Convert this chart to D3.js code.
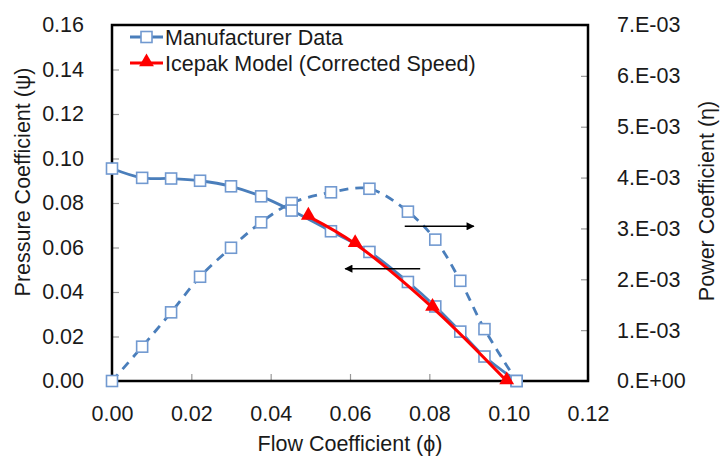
<!DOCTYPE html>
<html>
<head>
<meta charset="utf-8">
<script src="https://cdn.jsdelivr.net/npm/d3@7"></script>
<style>
  body { margin: 0; background: #fff; }
  text { font-family: "Liberation Sans", Arial, sans-serif; fill: #1a1a1a; }
</style>
</head>
<body>
<div id="chart"></div>
<script>
// flow coefficient (phi) for the manufacturer curves
var mfrFlow = [0.0, 0.0076, 0.0149, 0.0222, 0.0300, 0.0376, 0.0453, 0.0552, 0.0649, 0.0746, 0.0815, 0.0878, 0.0939, 0.1020];
// pressure coefficient (psi), left axis
var mfrPressure = [0.0955, 0.0913, 0.0910, 0.0900, 0.0875, 0.0830, 0.0766, 0.0673, 0.0580, 0.0445, 0.0335, 0.0222, 0.0110, 0.0];
// power coefficient (eta), right axis
var mfrPower = [0.0, 0.000675, 0.00135, 0.00205, 0.00262, 0.00312, 0.00350, 0.00371, 0.00378, 0.00333, 0.00278, 0.00197, 0.00102, 0.0];

// icepak model points
var icepakFlow = [0.0495, 0.0613, 0.0808, 0.0995];
var icepakPressure = [0.0740, 0.0617, 0.0330, 0.0];

var xTicks = [0, 0.02, 0.04, 0.06, 0.08, 0.10, 0.12];
var yTicks = [0, 0.02, 0.04, 0.06, 0.08, 0.10, 0.12, 0.14, 0.16];
var y2Ticks = [0, 0.001, 0.002, 0.003, 0.004, 0.005, 0.006, 0.007];
var y2Labels = ["0.E+00", "1.E-03", "2.E-03", "3.E-03", "4.E-03", "5.E-03", "6.E-03", "7.E-03"];

var legendLabels = ["Manufacturer Data", "Icepak Model (Corrected Speed)"];

var svgWidth = 723, svgHeight = 462;
var margin = { top: 25, right: 135, bottom: 81, left: 112 };
var width = svgWidth - margin.left - margin.right;
var height = svgHeight - margin.top - margin.bottom;

var blue = "#4a7ebb";
var markBlue = "#7199d0";
var red = "#ff0000";

var svg = d3.select("#chart").append("svg")
  .attr("width", svgWidth)
  .attr("height", svgHeight);

var defs = svg.append("defs");
defs.append("marker")
  .attr("id", "arrow")
  .attr("viewBox", "0 0 10 10")
  .attr("refX", 9).attr("refY", 5)
  .attr("markerWidth", 10).attr("markerHeight", 8)
  .attr("markerUnits", "userSpaceOnUse")
  .attr("orient", "auto")
  .append("path")
  .attr("d", "M0,0 L10,5 L0,10 Z")
  .attr("fill", "#000");

var chartGroup = svg.append("g")
  .attr("transform", `translate(${margin.left}, ${margin.top})`);

// scales
var xScale = d3.scaleLinear().domain([0, 0.12]).range([0, width]);
var yScale = d3.scaleLinear().domain([0, 0.16]).range([height, 0]);
var y2Scale = d3.scaleLinear().domain([0, 0.007]).range([height, 0]);

// axes with inward ticks
var xAxis = d3.axisBottom(xScale).tickValues(xTicks).tickSize(-7).tickPadding(25)
  .tickFormat(d3.format(".2f"));
var yAxis = d3.axisLeft(yScale).tickValues(yTicks).tickSize(-7).tickPadding(28)
  .tickFormat(d3.format(".2f"));
var y2Axis = d3.axisRight(y2Scale).tickValues(y2Ticks).tickSize(-7).tickPadding(29)
  .tickFormat((d, i) => y2Labels[i]);

function styleAxis(g) {
  g.select(".domain").remove();
  g.selectAll(".tick line").attr("stroke", "#999").attr("stroke-width", 1.2);
  g.selectAll(".tick text").style("font-size", "21.5px").style("font-family", "'Liberation Sans', Arial, sans-serif").attr("fill", "#1a1a1a");
}

chartGroup.append("g")
  .attr("transform", `translate(0, ${height})`)
  .call(xAxis).call(styleAxis);

chartGroup.append("g").call(yAxis).call(styleAxis);

chartGroup.append("g")
  .attr("transform", `translate(${width}, 0)`)
  .call(y2Axis).call(styleAxis);

// plot frame
chartGroup.append("rect")
  .attr("x", 0).attr("y", 0)
  .attr("width", width).attr("height", height)
  .attr("fill", "none")
  .attr("stroke", "#000")
  .attr("stroke-width", 2.5);

// manufacturer pressure curve
var pressureData = mfrFlow.map((f, i) => ({ x: f, y: mfrPressure[i] }));
var powerData = mfrFlow.map((f, i) => ({ x: f, y: mfrPower[i] }));
var icepakData = icepakFlow.map((f, i) => ({ x: f, y: icepakPressure[i] }));

var pressureLine = d3.line()
  .x(d => xScale(d.x)).y(d => yScale(d.y))
  .curve(d3.curveCatmullRom);
var powerLine = d3.line()
  .x(d => xScale(d.x)).y(d => y2Scale(d.y))
  .curve(d3.curveCatmullRom);

chartGroup.append("path")
  .datum(powerData)
  .attr("d", powerLine)
  .attr("fill", "none")
  .attr("stroke", blue)
  .attr("stroke-width", 2.8)
  .attr("stroke-dasharray", "9,7");

chartGroup.append("path")
  .datum(pressureData)
  .attr("d", pressureLine)
  .attr("fill", "none")
  .attr("stroke", blue)
  .attr("stroke-width", 2.8);

var sq = 11;
chartGroup.selectAll("rect.pw")
  .data(powerData)
  .enter()
  .append("rect")
  .attr("class", "pw")
  .attr("x", d => xScale(d.x) - sq / 2)
  .attr("y", d => y2Scale(d.y) - sq / 2)
  .attr("width", sq).attr("height", sq)
  .attr("fill", "#fff")
  .attr("stroke", markBlue)
  .attr("stroke-width", 1.6);

chartGroup.selectAll("rect.pr")
  .data(pressureData)
  .enter()
  .append("rect")
  .attr("class", "pr")
  .attr("x", d => xScale(d.x) - sq / 2)
  .attr("y", d => yScale(d.y) - sq / 2)
  .attr("width", sq).attr("height", sq)
  .attr("fill", "#fff")
  .attr("stroke", markBlue)
  .attr("stroke-width", 1.6);

// icepak model
chartGroup.append("path")
  .datum(icepakData)
  .attr("d", pressureLine)
  .attr("fill", "none")
  .attr("stroke", red)
  .attr("stroke-width", 3);

var tri = d3.symbol().type(d3.symbolTriangle).size(95);
chartGroup.selectAll("path.ice")
  .data(icepakData)
  .enter()
  .append("path")
  .attr("class", "ice")
  .attr("d", tri)
  .attr("transform", d => `translate(${xScale(d.x)}, ${yScale(d.y) - 1})`)
  .attr("fill", red);

// arrows pointing to each curve's axis
chartGroup.append("line")
  .attr("x1", xScale(0.0738)).attr("y1", yScale(0.0695))
  .attr("x2", xScale(0.0912)).attr("y2", yScale(0.0695))
  .attr("stroke", "#000").attr("stroke-width", 1.5)
  .attr("marker-end", "url(#arrow)");

chartGroup.append("line")
  .attr("x1", xScale(0.0777)).attr("y1", yScale(0.0505))
  .attr("x2", xScale(0.0588)).attr("y2", yScale(0.0505))
  .attr("stroke", "#000").attr("stroke-width", 1.5)
  .attr("marker-end", "url(#arrow)");

// legend
var legend = svg.append("g").attr("transform", "translate(130, 37)");
legend.append("line")
  .attr("x1", 0).attr("x2", 33).attr("y1", 0).attr("y2", 0)
  .attr("stroke", blue).attr("stroke-width", 2.8);
legend.append("rect")
  .attr("x", 16.5 - sq / 2).attr("y", -sq / 2)
  .attr("width", sq).attr("height", sq)
  .attr("fill", "#fff").attr("stroke", markBlue).attr("stroke-width", 1.6);
legend.append("text")
  .attr("x", 35).attr("y", 7.5)
  .style("font-size", "21.5px")
  .text(legendLabels[0]);

legend.append("line")
  .attr("x1", 0).attr("x2", 33).attr("y1", 26).attr("y2", 26)
  .attr("stroke", red).attr("stroke-width", 3);
legend.append("path")
  .attr("d", tri)
  .attr("transform", "translate(16.5, 25)")
  .attr("fill", red);
legend.append("text")
  .attr("x", 35).attr("y", 33.5)
  .style("font-size", "21.5px")
  .text(legendLabels[1]);

// axis titles
svg.append("text")
  .attr("transform", "translate(30, 182) rotate(-90)")
  .attr("text-anchor", "middle")
  .style("font-size", "21.5px")
  .text("Pressure Coefficient (ψ)");

svg.append("text")
  .attr("transform", "translate(714, 201) rotate(-90)")
  .attr("text-anchor", "middle")
  .style("font-size", "21.5px")
  .text("Power Coefficient (η)");

svg.append("text")
  .attr("x", margin.left + width / 2)
  .attr("y", 451)
  .attr("text-anchor", "middle")
  .style("font-size", "21.5px")
  .text("Flow Coefficient (ϕ)");
</script>
</body>
</html>
